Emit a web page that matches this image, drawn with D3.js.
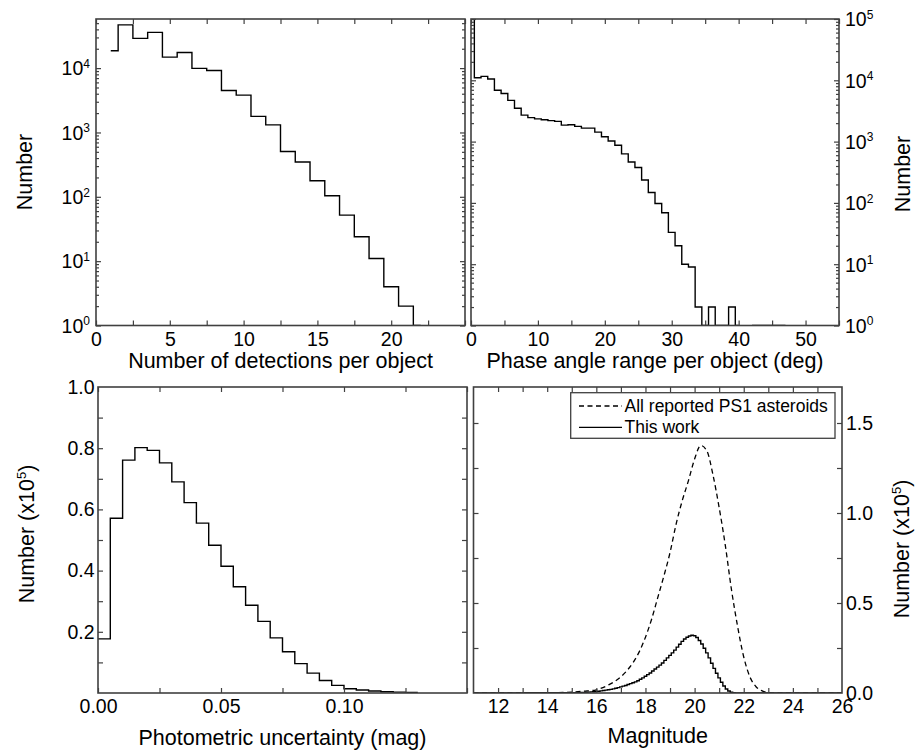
<!DOCTYPE html>
<html><head><meta charset="utf-8">
<script src="https://cdn.jsdelivr.net/npm/d3@7"></script>
<style>body{margin:0;background:#fff}</style>
</head><body><svg id="c" width="917" height="756"></svg>
<script>
// ---------- DATA ----------
// Panel a: number of detections per object (bin centres) and counts
const detN = [1,2,3,4,5,6,7,8,9,10,11,12,13,14,15,16,17,18,19,20,21,22];
const detCount = [18600,47000,29000,36000,14800,17500,9900,9200,4500,3800,1780,1310,505,347,178,104,52,24,11,4,2,1];
const detXTicks = [0,5,10,15,20];
const logTicksA = [1,10,100,1000,10000];

// Panel b: phase angle range per object (deg), bin centres and counts (null = empty bin)
const phaseDeg = [0,1,2,3,4,5,6,7,8,9,10,11,12,13,14,15,16,17,18,19,20,21,22,23,24,25,26,27,28,29,30,31,32,33,34,35,36,37,38,39,40,41,42,43,44,45,46,47];
const phaseCount = [300000,11000,11600,10500,6900,6100,4700,3500,2700,2460,2350,2270,2200,2140,1860,1880,1770,1660,1660,1430,1200,1020,870,630,465,377,236,148,98,69,33,20,10,9,2,1,2,1,1,2,1,null,1,1,1,1,1,1];
const phaseXTicks = [0,10,20,30,40,50];
const logTicksB = [1,10,100,1000,10000,100000];

// Panel c: photometric uncertainty (mag), bin left edges and counts (x1e5)
const uncEdge = [0,0.005,0.01,0.015,0.02,0.025,0.03,0.035,0.04,0.045,0.05,0.055,0.06,0.065,0.07,0.075,0.08,0.085,0.09,0.095,0.1,0.105,0.11,0.115,0.12,0.125];
const uncCount = [0.177,0.571,0.761,0.802,0.793,0.752,0.690,0.622,0.555,0.483,0.414,0.347,0.287,0.234,0.180,0.135,0.096,0.065,0.041,0.025,0.014,0.0098,0.0065,0.004,0.003,0.002];
const uncBinWidth = 0.005;
const uncXTicks = [0,0.05,0.10];
const uncYTicks = [0.2,0.4,0.6,0.8,1.0];

// Panel d: magnitude distributions (x1e5)
const allMag = [11,14,15,15.5,16,16.5,17,17.25,17.5,17.75,18,18.25,18.5,18.75,19,19.25,19.5,19.75,20,20.25,20.5,20.75,21,21.25,21.5,21.75,22,22.25,22.5,22.75,23,23.5,26];
const allCount = [0,0.001,0.005,0.010,0.018,0.045,0.09,0.125,0.17,0.23,0.31,0.41,0.53,0.65,0.78,0.94,1.07,1.18,1.30,1.375,1.345,1.21,1.03,0.82,0.575,0.37,0.20,0.09,0.035,0.012,0.003,0,0];
const workMag = [11,15.0,15.1,15.2,15.3,15.4,15.5,15.6,15.7,15.8,15.9,16.0,16.1,16.2,16.3,16.4,16.5,16.6,16.7,16.8,16.9,17.0,17.1,17.2,17.3,17.4,17.5,17.6,17.7,17.8,17.9,18.0,18.1,18.2,18.3,18.4,18.5,18.6,18.7,18.8,18.9,19.0,19.1,19.2,19.3,19.4,19.5,19.6,19.7,19.8,19.9,20.0,20.1,20.2,20.3,20.4,20.5,20.6,20.7,20.8,20.9,21.0,21.1,21.2,21.3,21.4,21.5,21.6,21.7,26];
const workCount = [0,0.001,0.001,0.002,0.002,0.003,0.003,0.004,0.005,0.006,0.007,0.009,0.010,0.012,0.014,0.016,0.018,0.020,0.023,0.026,0.030,0.034,0.038,0.042,0.047,0.052,0.057,0.062,0.068,0.076,0.084,0.093,0.102,0.111,0.122,0.133,0.144,0.155,0.167,0.181,0.195,0.209,0.223,0.238,0.255,0.271,0.287,0.300,0.310,0.317,0.321,0.318,0.308,0.292,0.272,0.249,0.223,0.195,0.165,0.137,0.110,0.084,0.060,0.039,0.022,0.011,0.004,0.001,0,0];
const magXTicks = [12,14,16,18,20,22,24,26];
const magYTicks = [0,0.5,1.0,1.5];
const legendLabels = ["All reported PS1 asteroids","This work"];

// ---------- STYLE / LAYOUT ----------
const FONT = "'Liberation Sans', Arial, Helvetica, sans-serif";
const FRAME = "#404040";
const TICKFS = 19.5, TITLEFS = 21.5;
const svg = d3.select("#c");

const P = {
  a:{x0:96, x1:465, y0:19, y1:325.5},
  b:{x0:471, x1:839, y0:19, y1:325.5},
  c:{x0:98, x1:467, y0:387, y1:693},
  d:{x0:473.5, x1:842, y0:387, y1:693}
};

function clip(id,p){
  svg.append("clipPath").attr("id",id).append("rect")
    .attr("x",p.x0).attr("y",p.y0).attr("width",p.x1-p.x0).attr("height",p.y1-p.y0);
}
function frame(p){
  svg.append("rect").attr("x",p.x0).attr("y",p.y0).attr("width",p.x1-p.x0).attr("height",p.y1-p.y0)
    .attr("fill","none").attr("stroke",FRAME).attr("stroke-width",1.6);
}
function styleAxis(g){
  g.select(".domain").remove();
  g.selectAll("line").attr("stroke",FRAME).attr("stroke-width",1.2);
  g.attr("font-family",FONT).attr("font-size",TICKFS);
  g.selectAll("text").attr("fill","#000");
  return g;
}
// inward ticks on all four sides
function xTicks(p, x, vals, len){
  styleAxis(svg.append("g").attr("transform",`translate(0,${p.y1})`)
    .call(d3.axisBottom(x).tickValues(vals).tickSizeInner(-len).tickSizeOuter(0).tickFormat(()=>"")));
  styleAxis(svg.append("g").attr("transform",`translate(0,${p.y0})`)
    .call(d3.axisTop(x).tickValues(vals).tickSizeInner(-len).tickSizeOuter(0).tickFormat(()=>"")));
}
function yTicks(p, y, vals, len){
  styleAxis(svg.append("g").attr("transform",`translate(${p.x0},0)`)
    .call(d3.axisLeft(y).tickValues(vals).tickSizeInner(-len).tickSizeOuter(0).tickFormat(()=>"")));
  styleAxis(svg.append("g").attr("transform",`translate(${p.x1},0)`)
    .call(d3.axisRight(y).tickValues(vals).tickSizeInner(-len).tickSizeOuter(0).tickFormat(()=>"")));
}
function xLabels(p, x, vals, fmt){
  const g = svg.append("g").attr("transform",`translate(0,${p.y1})`)
    .call(d3.axisBottom(x).tickValues(vals).tickSize(0).tickPadding(6.2).tickFormat(fmt));
  styleAxis(g); g.selectAll("line").remove();
  return g;
}
function yLabels(p, y, vals, fmt, side, pad){
  const gen = side==="left" ? d3.axisLeft(y) : d3.axisRight(y);
  const g = svg.append("g").attr("transform",`translate(${side==="left"?p.x0:p.x1},0)`)
    .call(gen.tickValues(vals).tickSize(0).tickPadding(pad).tickFormat(fmt));
  styleAxis(g); g.selectAll("line").remove();
  return g;
}
function powLabels(g){
  g.selectAll(".tick text").each(function(d){
    const t = d3.select(this);
    t.text("10").attr("dy","0.35em");
    t.append("tspan").attr("dy",-7.5).attr("font-size",12).text(Math.round(Math.log10(d)));
  });
}
function logMinor(lo, hi){
  const out = [];
  for (let e = lo; e < hi; e++) for (let k = 2; k <= 9; k++) out.push(k*Math.pow(10,e));
  return out;
}
function title(x, y, txt, rot){
  const t = svg.append("text").attr("font-family",FONT).attr("font-size",TITLEFS).attr("fill","#000")
    .attr("text-anchor","middle");
  if (rot) t.attr("transform",`translate(${x},${y}) rotate(-90)`); else t.attr("x",x).attr("y",y);
  return t;
}
function titleX10(x, y){
  const t = title(x, y, null, true);
  t.append("tspan").text("Number (x10");
  t.append("tspan").attr("dy",-8).attr("font-size",13).text("5");
  t.append("tspan").attr("dy",8).text(")");
}

// ---------- PANEL A ----------
{
  const p = P.a;
  const x = d3.scaleLinear().domain([0,25]).range([p.x0,p.x1]);
  const y = d3.scaleLog().domain([1,58000]).range([p.y1,p.y0]);
  clip("ca",p);
  svg.append("path").attr("clip-path","url(#ca)")
    .datum(detN.map((n,i)=>[n,detCount[i]]))
    .attr("fill","none").attr("stroke","#000").attr("stroke-width",1.4)
    .attr("d", d3.line().x(d=>x(d[0])).y(d=>y(d[1])).curve(d3.curveStep));
  xTicks(p, x, [0,2.5,5,7.5,10,12.5,15,17.5,20,22.5,25], 5);
  yTicks(p, y, logTicksA, 5);
  yTicks(p, y, logMinor(0,5).filter(v=>v<58000), 3);
  frame(p);
  xLabels(p, x, detXTicks, d3.format("d"));
  powLabels(yLabels(p, y, logTicksA, d3.format("d"), "left", 6));
  title((p.x0+p.x1)/2, 368, null, false).text("Number of detections per object");
  title(31.5, 172, null, true).text("Number");
}

// ---------- PANEL B ----------
{
  const p = P.b;
  const x = d3.scaleLinear().domain([0,55]).range([p.x0,p.x1]);
  const y = d3.scaleLog().domain([1,100000]).range([p.y1,p.y0]);
  clip("cb",p);
  svg.append("path").attr("clip-path","url(#cb)")
    .datum(phaseDeg.map((n,i)=>[n,phaseCount[i]]))
    .attr("fill","none").attr("stroke","#000").attr("stroke-width",1.4)
    .attr("d", d3.line().defined(d=>d[1]!=null).x(d=>x(d[0])).y(d=>y(d[1])).curve(d3.curveStep));
  xTicks(p, x, [0,5,10,15,20,25,30,35,40,45,50,55], 5);
  yTicks(p, y, logTicksB, 5);
  yTicks(p, y, logMinor(0,5), 3);
  frame(p);
  xLabels(p, x, phaseXTicks, d3.format("d"));
  powLabels(yLabels(p, y, logTicksB, d3.format("d"), "right", 6));
  title((p.x0+p.x1)/2, 368, null, false).text("Phase angle range per object (deg)");
  title(910, 174, null, true).text("Number");
}

// ---------- PANEL C ----------
{
  const p = P.c;
  const x = d3.scaleLinear().domain([0,0.15]).range([p.x0,p.x1]);
  const y = d3.scaleLinear().domain([0,1.0]).range([p.y1,p.y0]);
  clip("cc",p);
  const pts = uncEdge.map((e,i)=>[e,uncCount[i]]);
  pts.push([uncEdge[uncEdge.length-1]+uncBinWidth, uncCount[uncCount.length-1]]);
  svg.append("path").attr("clip-path","url(#cc)").datum(pts)
    .attr("fill","none").attr("stroke","#000").attr("stroke-width",1.4)
    .attr("d", d3.line().x(d=>x(d[0])).y(d=>y(d[1])).curve(d3.curveStepAfter));
  xTicks(p, x, [0,0.025,0.05,0.075,0.1,0.125,0.15], 5);
  yTicks(p, y, [0.1,0.2,0.3,0.4,0.5,0.6,0.7,0.8,0.9], 5);
  frame(p);
  xLabels(p, x, uncXTicks, d3.format(".2f"));
  yLabels(p, y, uncYTicks, d3.format(".1f"), "left", 3.5);
  title((p.x0+p.x1)/2, 745, null, false).text("Photometric uncertainty (mag)");
  titleX10(33.5, 534);
}

// ---------- PANEL D ----------
{
  const p = P.d;
  const x = d3.scaleLinear().domain([11,26]).range([p.x0,p.x1]);
  const y = d3.scaleLinear().domain([0,1.7]).range([p.y1,p.y0]);
  clip("cd",p);
  svg.append("path").attr("clip-path","url(#cd)")
    .datum(allMag.map((m,i)=>[m,allCount[i]]))
    .attr("fill","none").attr("stroke","#000").attr("stroke-width",1.3).attr("stroke-dasharray","5,3.5")
    .attr("d", d3.line().x(d=>x(d[0])).y(d=>y(d[1])).curve(d3.curveMonotoneX));
  svg.append("path").attr("clip-path","url(#cd)")
    .datum(workMag.map((m,i)=>[m,workCount[i]]))
    .attr("fill","none").attr("stroke","#000").attr("stroke-width",1.4)
    .attr("d", d3.line().x(d=>x(d[0])).y(d=>y(d[1])).curve(d3.curveStep));
  xTicks(p, x, d3.range(12,26,1), 5);
  yTicks(p, y, [0.25,0.5,0.75,1.0,1.25,1.5], 5);
  frame(p);
  xLabels(p, x, magXTicks, d3.format("d"));
  yLabels(p, y, magYTicks, d3.format(".1f"), "right", 4);
  title((p.x0+p.x1)/2, 743, null, false).text("Magnitude");
  titleX10(908.5, 549);

  // legend
  const lg = svg.append("g");
  lg.append("rect").attr("x",570.7).attr("y",392.7).attr("width",264.3).attr("height",45.6)
    .attr("fill","#fff").attr("stroke",FRAME).attr("stroke-width",1.3);
  const rows = [{dash:"5,3.5", y:406}, {dash:null, y:427.3}];
  rows.forEach((r,i)=>{
    const l = lg.append("line").attr("x1",579).attr("x2",622).attr("y1",r.y).attr("y2",r.y)
      .attr("stroke","#000").attr("stroke-width",1.3);
    if (r.dash) l.attr("stroke-dasharray",r.dash);
    lg.append("text").attr("x",624.5).attr("y",r.y+6).attr("font-family",FONT).attr("font-size",17.5)
      .attr("fill","#000").text(legendLabels[i]);
  });
}
</script>
</body></html>
